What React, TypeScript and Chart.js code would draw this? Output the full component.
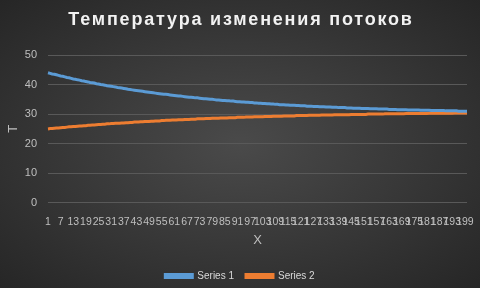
import React, { useEffect, useRef } from "react";
import { Chart, registerables } from "chart.js";

Chart.register(...registerables);

const TITLE = "Температура изменения потоков";
const X_TITLE = "X";
const Y_TITLE = "T";

const categories: string[] = Array.from({ length: 200 }, (_, i) => String(i + 1));

const series1: number[] = [
  44.0, 43.8, 43.6, 43.5, 43.3, 43.1, 42.9, 42.8, 42.6, 42.4,
  42.3, 42.1, 41.9, 41.8, 41.6, 41.5, 41.3, 41.2, 41.0, 40.9,
  40.7, 40.6, 40.5, 40.3, 40.2, 40.0, 39.9, 39.8, 39.6, 39.5,
  39.4, 39.3, 39.2, 39.0, 38.9, 38.8, 38.7, 38.6, 38.4, 38.3,
  38.2, 38.1, 38.0, 37.9, 37.8, 37.7, 37.6, 37.5, 37.4, 37.3,
  37.2, 37.1, 37.0, 36.9, 36.8, 36.7, 36.7, 36.6, 36.5, 36.4,
  36.3, 36.2, 36.1, 36.1, 36.0, 35.9, 35.8, 35.7, 35.7, 35.6,
  35.5, 35.5, 35.4, 35.3, 35.2, 35.2, 35.1, 35.0, 35.0, 34.9,
  34.8, 34.8, 34.7, 34.6, 34.6, 34.5, 34.5, 34.4, 34.4, 34.3,
  34.2, 34.2, 34.1, 34.1, 34.0, 34.0, 33.9, 33.9, 33.8, 33.8,
  33.7, 33.7, 33.6, 33.6, 33.5, 33.5, 33.4, 33.4, 33.3, 33.3,
  33.2, 33.2, 33.2, 33.1, 33.1, 33.0, 33.0, 33.0, 32.9, 32.9,
  32.8, 32.8, 32.8, 32.7, 32.7, 32.7, 32.6, 32.6, 32.6, 32.5,
  32.5, 32.5, 32.4, 32.4, 32.4, 32.3, 32.3, 32.3, 32.2, 32.2,
  32.2, 32.2, 32.1, 32.1, 32.1, 32.0, 32.0, 32.0, 32.0, 31.9,
  31.9, 31.9, 31.9, 31.8, 31.8, 31.8, 31.8, 31.7, 31.7, 31.7,
  31.7, 31.7, 31.6, 31.6, 31.6, 31.6, 31.5, 31.5, 31.5, 31.5,
  31.5, 31.4, 31.4, 31.4, 31.4, 31.4, 31.4, 31.3, 31.3, 31.3,
  31.3, 31.3, 31.2, 31.2, 31.2, 31.2, 31.2, 31.2, 31.2, 31.1,
  31.1, 31.1, 31.1, 31.1, 31.1, 31.0, 31.0, 31.0, 31.0, 31.0,
];

const series2: number[] = [
  25.0, 25.1, 25.1, 25.2, 25.3, 25.3, 25.4, 25.5, 25.5, 25.6,
  25.7, 25.7, 25.8, 25.8, 25.9, 26.0, 26.0, 26.1, 26.1, 26.2,
  26.2, 26.3, 26.3, 26.4, 26.5, 26.5, 26.6, 26.6, 26.7, 26.7,
  26.8, 26.8, 26.9, 26.9, 26.9, 27.0, 27.0, 27.1, 27.1, 27.2,
  27.2, 27.3, 27.3, 27.3, 27.4, 27.4, 27.5, 27.5, 27.5, 27.6,
  27.6, 27.7, 27.7, 27.7, 27.8, 27.8, 27.9, 27.9, 27.9, 28.0,
  28.0, 28.0, 28.1, 28.1, 28.1, 28.2, 28.2, 28.2, 28.3, 28.3,
  28.3, 28.4, 28.4, 28.4, 28.4, 28.5, 28.5, 28.5, 28.6, 28.6,
  28.6, 28.6, 28.7, 28.7, 28.7, 28.7, 28.8, 28.8, 28.8, 28.8,
  28.9, 28.9, 28.9, 28.9, 29.0, 29.0, 29.0, 29.0, 29.1, 29.1,
  29.1, 29.1, 29.1, 29.2, 29.2, 29.2, 29.2, 29.3, 29.3, 29.3,
  29.3, 29.3, 29.4, 29.4, 29.4, 29.4, 29.4, 29.4, 29.5, 29.5,
  29.5, 29.5, 29.5, 29.5, 29.6, 29.6, 29.6, 29.6, 29.6, 29.6,
  29.7, 29.7, 29.7, 29.7, 29.7, 29.7, 29.8, 29.8, 29.8, 29.8,
  29.8, 29.8, 29.8, 29.8, 29.9, 29.9, 29.9, 29.9, 29.9, 29.9,
  29.9, 29.9, 30.0, 30.0, 30.0, 30.0, 30.0, 30.0, 30.0, 30.0,
  30.1, 30.1, 30.1, 30.1, 30.1, 30.1, 30.1, 30.1, 30.1, 30.1,
  30.2, 30.2, 30.2, 30.2, 30.2, 30.2, 30.2, 30.2, 30.2, 30.2,
  30.2, 30.3, 30.3, 30.3, 30.3, 30.3, 30.3, 30.3, 30.3, 30.3,
  30.3, 30.3, 30.3, 30.4, 30.4, 30.4, 30.4, 30.4, 30.4, 30.4,
];

const seriesNames = ["Series 1", "Series 2"];
const seriesColors = ["#5b9bd5", "#ed7d31"];
const yMin = 0;
const yMax = 50;
const yStep = 10;
const xLabelEvery = 6;

const FONT = '"Liberation Sans", Arial, sans-serif';

const titlePlugin = {
  id: "spacedTitle",
  afterDraw(chart: any) {
    const ctx = chart.ctx as CanvasRenderingContext2D;
    ctx.save();
    ctx.font = `bold 18px ${FONT}`;
    (ctx as any).letterSpacing = "1.8px";
    ctx.fillStyle = "#f2f2f2";
    ctx.textAlign = "center";
    ctx.textBaseline = "middle";
    ctx.fillText(TITLE, chart.width / 2 + 1, 20);
    ctx.restore();
  },
};

export default function App() {
  const canvasRef = useRef<HTMLCanvasElement | null>(null);

  useEffect(() => {
    document.body.style.margin = "0";
    const canvas = canvasRef.current;
    if (!canvas) return;
    const chart = new Chart(canvas, {
      type: "line",
      data: {
        labels: categories,
        datasets: seriesNames.map((name, i) => ({
          label: name,
          data: i === 0 ? series1 : series2,
          borderColor: seriesColors[i],
          backgroundColor: seriesColors[i],
          borderWidth: 3,
          pointRadius: 0,
          pointHoverRadius: 0,
          tension: 0,
          fill: false,
        })),
      },
      options: {
        animation: false,
        responsive: false,
        maintainAspectRatio: false,
        layout: { padding: { top: 55, left: 13, right: 13, bottom: -3 } },
        plugins: {
          title: { display: false },
          tooltip: { enabled: false },
          legend: {
            position: "bottom",
            labels: {
              color: "#d9d9d9",
              font: { family: FONT, size: 10 },
              boxWidth: 27,
              boxHeight: 3,
              padding: 12,
            },
          },
        },
        scales: {
          x: {
            type: "category",
            offset: false,
            grid: { display: false },
            border: { display: false },
            ticks: {
              autoSkip: false,
              maxRotation: 0,
              minRotation: 0,
              color: "#bfbfbf",
              font: { family: FONT, size: 10.5 },
              padding: 5,
              callback: (_v: any, idx: number) =>
                idx % xLabelEvery === 0 ? categories[idx] : "",
            },
            title: {
              display: true,
              text: X_TITLE,
              color: "#bfbfbf",
              font: { family: FONT, size: 13 },
              padding: { top: -1, bottom: 11 },
            },
          },
          y: {
            min: yMin,
            max: yMax,
            afterFit: (scale: any) => {
              scale.width = 35;
            },
            grid: { color: "#595959", lineWidth: 1, drawTicks: false },
            border: { display: false },
            ticks: {
              stepSize: yStep,
              color: "#bfbfbf",
              font: { family: FONT, size: 11 },
              padding: 11,
            },
            title: {
              display: true,
              text: Y_TITLE,
              color: "#bfbfbf",
              font: { family: FONT, size: 13 },
              padding: { top: -7, bottom: 0 },
            },
          },
        },
      },
      plugins: [titlePlugin],
    });
    return () => chart.destroy();
  }, []);

  return (
    <div
      style={{
        position: "absolute",
        left: 0,
        top: 0,
        width: 480,
        height: 288,
        background:
          "radial-gradient(ellipse at 50% 50%, #4a4a4a 0%, #3a3a3a 45%, #262626 100%)",
      }}
    >
      <canvas ref={canvasRef} width={480} height={288} />
    </div>
  );
}
